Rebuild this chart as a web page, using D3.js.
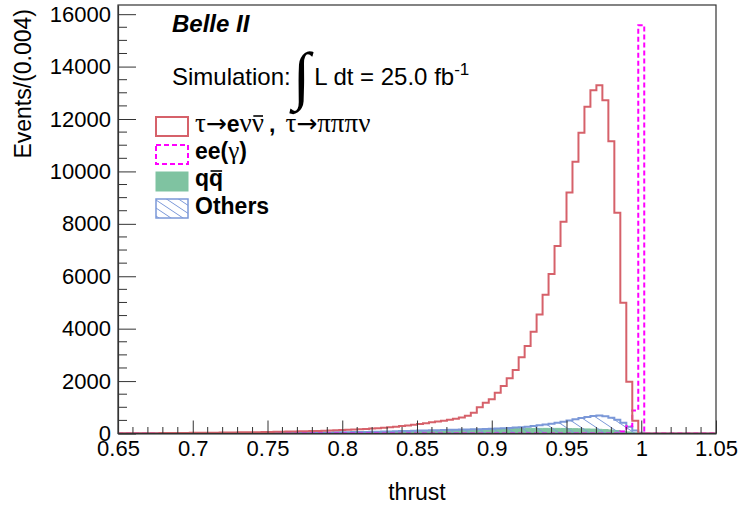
<!DOCTYPE html>
<html>
<head>
<meta charset="utf-8">
<script src="https://cdn.jsdelivr.net/npm/d3@7"></script>
<style>
  body { margin: 0; background: #fff; }
  svg { display: block; }
  text { font-family: "Liberation Sans", Arial, Helvetica, sans-serif; fill: #000; }
  .serif { font-family: "Liberation Serif", "Times New Roman", serif; font-weight: normal; }
  .arrow { font-family: "DejaVu Sans", sans-serif; font-weight: normal; }
</style>
</head>
<body>
<svg id="chart" width="743" height="510"></svg>
<script>
// Binning of the thrust histograms: 100 bins of width 0.004 starting at 0.65
const binLow = 0.65;
const binWidth = 0.004;

// tau -> e nu nubar , tau -> pi pi pi nu (signal), events per bin
const tauCounts = [
  8, 9, 10, 11, 12, 13, 14, 15, 17, 18,
  20, 22, 24, 26, 28, 30, 32, 35, 38, 40,
  43, 46, 49, 52, 56, 60, 64, 68, 72, 77,
  82, 88, 94, 100, 107, 114, 122, 130, 140, 150,
  162, 175, 190, 205, 222, 240, 262, 285, 310, 335,
  365, 395, 425, 455, 490, 525, 565, 610, 680, 795,
  998, 1176, 1303, 1557, 1812, 2104, 2422, 2905, 3337, 3883,
  4545, 5294, 6083, 7151, 8078, 9199, 10366, 11473, 12465, 13100,
  13291, 12719, 11155, 8422, 4990, 1977, 490, 0, 0, 0,
  0, 0, 0, 0, 0, 0, 0, 0, 0, 0
];

// ee(gamma) background
const eeGammaCounts = [
  0, 0, 0, 0, 0, 0, 0, 0, 0, 0,
  0, 0, 0, 0, 0, 0, 0, 0, 0, 0,
  0, 0, 0, 0, 0, 0, 0, 0, 0, 0,
  0, 0, 0, 0, 0, 0, 0, 0, 0, 0,
  0, 0, 0, 0, 0, 0, 0, 0, 0, 0,
  0, 0, 0, 0, 0, 0, 0, 0, 0, 0,
  0, 0, 0, 0, 0, 0, 0, 0, 0, 0,
  0, 0, 0, 0, 0, 0, 0, 0, 0, 0,
  0, 0, 0, 0, 80, 280, 880, 15580, 0, 0,
  0, 0, 0, 0, 0, 0, 0, 0, 0, 0
];

// q qbar continuum background
const qqbarCounts = [
  0, 0, 0, 0, 0, 0, 0, 0, 1, 1,
  1, 1, 2, 2, 2, 3, 3, 3, 4, 4,
  5, 5, 6, 7, 8, 9, 10, 11, 12, 14,
  16, 18, 20, 22, 25, 28, 31, 34, 38, 42,
  46, 50, 55, 60, 65, 70, 76, 82, 88, 94,
  100, 106, 112, 118, 124, 130, 136, 142, 148, 154,
  160, 165, 170, 175, 180, 185, 188, 190, 192, 194,
  195, 196, 196, 195, 193, 190, 186, 181, 175, 168,
  160, 150, 135, 115, 90, 60, 30, 10, 2, 0,
  0, 0, 0, 0, 0, 0, 0, 0, 0, 0
];

// all other tau-pair and low-multiplicity backgrounds
const otherCounts = [
  2, 2, 3, 3, 3, 4, 4, 4, 5, 5,
  6, 6, 7, 7, 8, 8, 9, 10, 10, 11,
  12, 13, 14, 15, 16, 18, 19, 21, 23, 25,
  27, 29, 31, 34, 37, 40, 43, 46, 50, 54,
  58, 62, 66, 71, 76, 81, 86, 92, 98, 104,
  110, 116, 122, 128, 134, 140, 146, 150, 155, 160,
  165, 172, 180, 190, 200, 212, 225, 240, 260, 285,
  315, 345, 375, 410, 450, 495, 545, 590, 630, 665,
  690, 660, 600, 520, 410, 260, 110, 30, 0, 0,
  0, 0, 0, 0, 0, 0, 0, 0, 0, 0
];

const xTickValues = [0.65, 0.7, 0.75, 0.8, 0.85, 0.9, 0.95, 1.0, 1.05];
const xTickLabels = ["0.65", "0.7", "0.75", "0.8", "0.85", "0.9", "0.95", "1", "1.05"];
const yTickValues = [0, 2000, 4000, 6000, 8000, 10000, 12000, 14000, 16000];
const yTickLabels = ["0", "2000", "4000", "6000", "8000", "10000", "12000", "14000", "16000"];

const colors = {
  tau: "#d6616a",
  eeGamma: "#ff00ff",
  qqbar: "#7fc3a1",
  others: "#7b98d8",
  frame: "#333"
};

const W = 743, H = 510;
const margin = { left: 118, right: 27, top: 5, bottom: 76.5 };
const plotW = W - margin.left - margin.right;
const plotH = H - margin.top - margin.bottom;

const svg = d3.select("#chart");

const x = d3.scaleLinear().domain([0.65, 1.05]).range([margin.left, margin.left + plotW]);
const y = d3.scaleLinear().domain([0, 16350]).range([margin.top + plotH, margin.top]);

// hatch pattern for the "Others" histogram
const hatchW = 15, hatchH = 10;
const defs = svg.append("defs");
const pat = defs.append("pattern")
  .attr("id", "hatch")
  .attr("patternUnits", "userSpaceOnUse")
  .attr("width", hatchW)
  .attr("height", hatchH);
pat.append("path")
  .attr("d", `M${-hatchW},${-hatchH}L${2 * hatchW},${2 * hatchH}M0,${-hatchH}L${2 * hatchW},${hatchH}M${-hatchW},0L${hatchW},${2 * hatchH}`)
  .attr("stroke", colors.others)
  .attr("stroke-width", 1);

const legendPat = defs.append("pattern")
  .attr("id", "hatchLegend")
  .attr("patternUnits", "userSpaceOnUse")
  .attr("width", 12)
  .attr("height", 8);
legendPat.append("path")
  .attr("d", "M-12,-8L24,16M0,-8L24,8M-12,0L12,16")
  .attr("stroke", colors.others)
  .attr("stroke-width", 1);

const clip = defs.append("clipPath").attr("id", "plotClip");
clip.append("rect")
  .attr("x", margin.left).attr("y", margin.top)
  .attr("width", plotW).attr("height", plotH);

// turn a count array into step points (bin low edges + closing edge)
function stepPoints(counts) {
  const pts = counts.map((c, i) => [binLow + i * binWidth, c]);
  pts.push([binLow + counts.length * binWidth, counts[counts.length - 1]]);
  return pts;
}

const stepLine = d3.line()
  .x(d => x(d[0]))
  .y(d => y(d[1]))
  .curve(d3.curveStepAfter);

const stepArea = d3.area()
  .x(d => x(d[0]))
  .y0(y(0))
  .y1(d => y(d[1]))
  .curve(d3.curveStepAfter);

const plot = svg.append("g").attr("clip-path", "url(#plotClip)");

// q qbar: solid green fill
plot.append("path")
  .attr("d", stepArea(stepPoints(qqbarCounts)))
  .attr("fill", colors.qqbar)
  .attr("stroke", colors.qqbar)
  .attr("stroke-width", 1);

// Others: hatched fill with blue outline
plot.append("path")
  .attr("d", stepArea(stepPoints(otherCounts)))
  .attr("fill", "url(#hatch)")
  .attr("stroke", "none");
plot.append("path")
  .attr("d", stepLine(stepPoints(otherCounts)))
  .attr("fill", "none")
  .attr("stroke", colors.others)
  .attr("stroke-width", 2);

// ee(gamma): dashed magenta outline
plot.append("path")
  .attr("d", stepLine(stepPoints(eeGammaCounts)))
  .attr("fill", "none")
  .attr("stroke", colors.eeGamma)
  .attr("stroke-width", 2)
  .attr("stroke-dasharray", "5,3");

// signal: solid red outline
plot.append("path")
  .attr("d", stepLine(stepPoints(tauCounts)))
  .attr("fill", "none")
  .attr("stroke", colors.tau)
  .attr("stroke-width", 2);

// frame
svg.append("rect")
  .attr("x", margin.left).attr("y", margin.top)
  .attr("width", plotW).attr("height", plotH)
  .attr("fill", "none")
  .attr("stroke", colors.frame)
  .attr("stroke-width", 1.2);

// x axis ticks (inward)
const xAxis = d3.axisBottom(x)
  .tickValues(xTickValues)
  .tickSizeInner(-13)
  .tickSizeOuter(0)
  .tickPadding(7)
  .tickFormat((d, i) => xTickLabels[i]);
const gx = svg.append("g")
  .attr("transform", `translate(0,${margin.top + plotH})`)
  .call(xAxis);
gx.select(".domain").attr("stroke", colors.frame).attr("stroke-width", 1.2);
gx.selectAll(".tick line").attr("stroke", colors.frame);
gx.selectAll(".tick text").attr("font-size", 22).attr("font-family", "'Liberation Sans', Arial, sans-serif");

const xMinor = d3.range(66, 105).map(v => v / 100).filter(v => Math.round(v * 100) % 5 !== 0);
svg.append("g").selectAll("line").data(xMinor).join("line")
  .attr("x1", d => x(d)).attr("x2", d => x(d))
  .attr("y1", margin.top + plotH).attr("y2", margin.top + plotH - 6.5)
  .attr("stroke", colors.frame);

// y axis ticks (inward)
const yAxis = d3.axisLeft(y)
  .tickValues(yTickValues)
  .tickSizeInner(-18)
  .tickSizeOuter(0)
  .tickPadding(7)
  .tickFormat((d, i) => yTickLabels[i]);
const gy = svg.append("g")
  .attr("transform", `translate(${margin.left},0)`)
  .call(yAxis);
gy.select(".domain").attr("stroke", colors.frame).attr("stroke-width", 1.2);
gy.selectAll(".tick line").attr("stroke", colors.frame);
gy.selectAll(".tick text").attr("font-size", 22).attr("font-family", "'Liberation Sans', Arial, sans-serif");

const yMinor = d3.range(500, 16350, 500).filter(v => v % 2000 !== 0);
svg.append("g").selectAll("line").data(yMinor).join("line")
  .attr("x1", margin.left).attr("x2", margin.left + 9)
  .attr("y1", d => y(d)).attr("y2", d => y(d))
  .attr("stroke", colors.frame);

// axis titles
svg.append("text")
  .attr("transform", `translate(31,${margin.top + 4}) rotate(-90)`)
  .attr("text-anchor", "end")
  .attr("font-size", 23)
  .text("Events/(0.004)");

svg.append("text")
  .attr("x", margin.left + plotW / 2)
  .attr("y", 500)
  .attr("text-anchor", "middle")
  .attr("font-size", 23)
  .text("thrust");

// experiment label
svg.append("text")
  .attr("x", 172).attr("y", 32)
  .attr("font-size", 24)
  .attr("font-weight", "bold")
  .attr("font-style", "italic")
  .text("Belle II");

const lumi = svg.append("text").attr("x", 172).attr("y", 85).attr("font-size", 24);
lumi.append("tspan").text("Simulation:");
lumi.append("tspan").attr("font-size", 64).attr("dy", 12).attr("dx", 2).attr("class", "serif").text("∫");
lumi.append("tspan").attr("font-size", 24).attr("dy", -12).attr("dx", 4).text("L dt = 25.0 fb");
lumi.append("tspan").attr("font-size", 17).attr("dy", -10).text("-1");

// legend
const legendX = 156, boxW = 32, boxH = 19;
const legendRows = [
  { y: 117, key: "tau" },
  { y: 145, key: "eeGamma" },
  { y: 172, key: "qqbar" },
  { y: 199, key: "others" }
];
const leg = svg.append("g");
legendRows.forEach(r => {
  const rect = leg.append("rect")
    .attr("x", legendX).attr("y", r.y)
    .attr("width", boxW).attr("height", boxH);
  if (r.key === "tau") rect.attr("fill", "none").attr("stroke", colors.tau).attr("stroke-width", 2);
  if (r.key === "eeGamma") rect.attr("fill", "none").attr("stroke", colors.eeGamma).attr("stroke-width", 2).attr("stroke-dasharray", "5,3");
  if (r.key === "qqbar") rect.attr("fill", colors.qqbar).attr("stroke", colors.qqbar).attr("stroke-width", 1);
  if (r.key === "others") rect.attr("fill", "url(#hatchLegend)").attr("stroke", colors.others).attr("stroke-width", 1.5);
});

// draws a bar over one character of a text element (antiparticle notation)
function overbar(textSel, charIndex, barY) {
  const ext = textSel.node().getExtentOfChar(charIndex);
  leg.append("line")
    .attr("x1", ext.x + 1.5).attr("x2", ext.x + ext.width - 1)
    .attr("y1", barY).attr("y2", barY)
    .attr("stroke", "#000").attr("stroke-width", 1.6);
}

const greekSize = 27;
const t1 = leg.append("text").attr("x", 195).attr("y", 132).attr("font-size", 23);
t1.append("tspan").attr("class", "serif").attr("font-size", greekSize).text("τ");
t1.append("tspan").attr("class", "arrow").attr("font-size", 25).text("→");
t1.append("tspan").attr("font-weight", "bold").text("e");
t1.append("tspan").attr("class", "serif").attr("font-size", greekSize).text("νν");
t1.append("tspan").attr("font-weight", "bold").attr("dx", 5).text(",");
t1.append("tspan").attr("class", "serif").attr("font-size", greekSize).attr("dx", 10).text("τ");
t1.append("tspan").attr("class", "arrow").attr("font-size", 25).text("→");
t1.append("tspan").attr("class", "serif").attr("font-size", greekSize).text("πππν");
overbar(t1, 4, 116);

const t2 = leg.append("text").attr("x", 195).attr("y", 159).attr("font-size", 23).attr("font-weight", "bold");
t2.append("tspan").text("ee(");
t2.append("tspan").attr("class", "serif").attr("font-size", 25).text("γ");
t2.append("tspan").text(")");

const t3 = leg.append("text").attr("x", 195).attr("y", 186).attr("font-size", 23).attr("font-weight", "bold").text("qq");
overbar(t3, 1, 171);

leg.append("text").attr("x", 195).attr("y", 214).attr("font-size", 23).attr("font-weight", "bold").text("Others");
</script>
</body>
</html>
